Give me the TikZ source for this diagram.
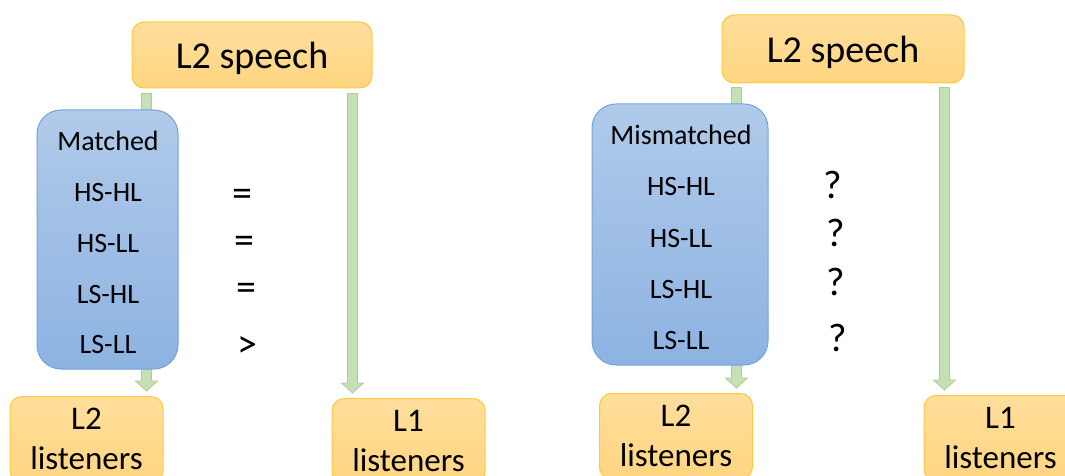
\documentclass[tikz,border=0pt]{standalone}
\usepackage{fontspec}
\setmainfont{Carlito}
\usetikzlibrary{calc}

\definecolor{orgtop}{HTML}{FFDE9C}
\definecolor{orgbot}{HTML}{FFD580}
\definecolor{orgline}{HTML}{FFC93C}
\definecolor{blutop}{HTML}{B0CAE9}
\definecolor{blubot}{HTML}{8DB3E2}
\definecolor{bluline}{HTML}{74A3DA}
\definecolor{grnfill}{HTML}{C5E0B4}
\definecolor{grnline}{HTML}{A9D18E}

% fat down arrow from a start point to just above a target node
\newcommand{\fatarrow}[2]{%
  \draw[fatarr] let \p1=(#1), \p2=(#2) in
    (\x1-5pt,\y1) -- (\x1+5pt,\y1) -- (\x1+5pt,\y2+15pt) -- (\x1+11pt,\y2+15pt)
    -- (\x1,\y2+5pt) -- (\x1-11pt,\y2+15pt) -- (\x1-5pt,\y2+15pt) -- cycle;}

\begin{document}
\begin{tikzpicture}[x=1pt,y=-1pt,
    spbox/.style={draw=orgline, line width=1pt, rounded corners=12pt,
      top color=orgtop, bottom color=orgbot, minimum height=66pt,
      text depth=0pt, font=\fontsize{38}{40}\selectfont},
    lisbox/.style={draw=orgline, line width=1pt, rounded corners=12pt,
      top color=orgtop, bottom color=orgbot, minimum width=153pt,
      anchor=north, align=center, inner ysep=12pt,
      font=\fontsize{33}{40}\selectfont},
    matbox/.style={draw=bluline, line width=1pt, rounded corners=24pt,
      top color=blutop, bottom color=blubot},
    rowtxt/.style={anchor=base, inner sep=0pt, font=\fontsize{28}{30}\selectfont},
    symtxt/.style={anchor=base, inner sep=0pt, font=\fontsize{40}{42}\selectfont},
    fatarr/.style={draw=grnline, fill=grnfill, line width=0.8pt}]

  \useasboundingbox (0,0) rectangle (1065,476);
  \clip (0,0) rectangle (1065,476);

  % left half: matched
  \node[spbox, minimum width=240pt] (spA) at (252,55) {L2 speech};
  \node[lisbox] (l2A) at (86.5,396) {L2\\listeners};
  \node[lisbox] (l1A) at (408.5,398) {L1\\listeners};
  \coordinate (a1) at ([xshift=15pt,yshift=-5pt]spA.south west);
  \coordinate (a2) at ([xshift=-20pt,yshift=-5pt]spA.south east);
  \fatarrow{a1}{l2A.north}
  \fatarrow{a2}{l1A.north}
  \node[matbox, minimum width=141pt, minimum height=259pt] (matA) at (107.5,239.5) {};
  \foreach \yy/\txt [count=\i] in {150/Matched, 201/HS-HL, 252/HS-LL, 303/LS-HL, 353/LS-LL}
    \node[rowtxt] (rA\i) at (108,\yy) {\txt};
  \node[symtxt] (sA1) at (242,206) {=};
  \node[symtxt] (sA2) at (244,253) {=};
  \node[symtxt] (sA3) at (246,300) {=};
  \node[symtxt] (sA4) at (247,357) {>};

  % right half: mismatched
  \node[spbox, minimum width=242pt, minimum height=68pt] (spB) at (843,49) {L2 speech};
  \node[lisbox] (l2B) at (676,393) {L2\\listeners};
  \node[lisbox] (l1B) at (1000.5,395) {L1\\listeners};
  \coordinate (b1) at ([xshift=15pt,yshift=-4pt]spB.south west);
  \coordinate (b2) at ([xshift=-20pt,yshift=-4pt]spB.south east);
  \fatarrow{b1}{l2B.north}
  \fatarrow{b2}{l1B.north}
  \node[matbox, minimum width=176pt, minimum height=261pt] (matB) at (680,234.5) {};
  \foreach \yy/\txt [count=\i] in {144/Mismatched, 195/HS-HL, 247/HS-LL, 298/LS-HL, 349/LS-LL}
    \node[rowtxt] (rB\i) at (681,\yy) {\txt};
  \node[symtxt] (sB1) at (833,198) {?};
  \node[symtxt] (sB2) at (836,246) {?};
  \node[symtxt] (sB3) at (836,295) {?};
  \node[symtxt] (sB4) at (838,351) {?};
\end{tikzpicture}
\end{document}
